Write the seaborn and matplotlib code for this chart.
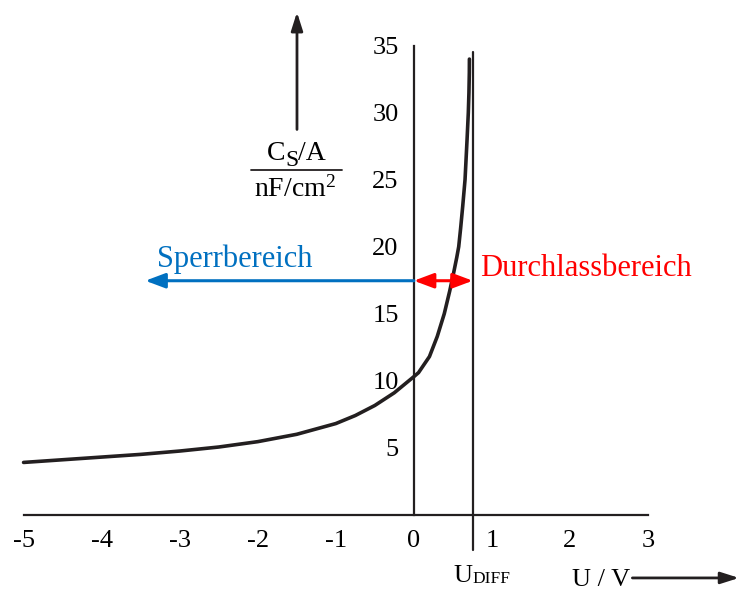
import matplotlib
matplotlib.use("Agg")
import matplotlib.pyplot as plt
import seaborn as sns
import pandas as pd

# Sperrschichtkapazität einer Diode über der Spannung
u_volt = [-5.0, -4.5, -4.0, -3.5, -3.0, -2.5, -2.0, -1.5, -1.0, -0.75, -0.5,
          -0.25, 0.0, 0.06, 0.2, 0.3, 0.39, 0.46, 0.51, 0.55, 0.575, 0.6,
          0.626, 0.656, 0.682, 0.698, 0.706, 0.711, 0.712]
cs_per_area = [3.9, 4.1, 4.3, 4.5, 4.75, 5.05, 5.45, 6.0, 6.8, 7.4, 8.15,
               9.1, 10.3, 10.6, 11.8, 13.3, 15.0, 16.7, 18.05, 19.2, 20.0,
               21.4, 23.0, 25.0, 28.0, 30.0, 31.5, 33.0, 34.0]
x_ticks = [-5, -4, -3, -2, -1, 0, 1, 2, 3]
y_ticks = [5, 10, 15, 20, 25, 30, 35]
u_diff = 0.755
arrow_level = 17.46

df = pd.DataFrame({"U": u_volt, "C": cs_per_area})

sns.set_style("white")
plt.rcParams["font.family"] = ["Liberation Serif", "DejaVu Serif"]
plt.rcParams["mathtext.fontset"] = "custom"
plt.rcParams["mathtext.rm"] = "Liberation Serif"
plt.rcParams["mathtext.it"] = "Liberation Serif:italic"

ink = "#231f20"
blue = "#0070c0"
red = "#ff0000"
DPI = 100

fig = plt.figure(figsize=(7.39, 5.90), dpi=DPI)
ax = fig.add_axes([0, 0, 1, 1])
ax.set_xlim(-5.302, 4.166)
ax.set_ylim(-5.62, 38.41)

sns.lineplot(data=df, x="U", y="C", ax=ax, color=ink, linewidth=2.6,
             sort=False, estimator=None)

# Achsen durch den Ursprung
for side in ("top", "right"):
    ax.spines[side].set_visible(False)
ax.spines["left"].set_position(("data", 0))
ax.spines["bottom"].set_position(("data", 0))
ax.spines["left"].set_bounds(0, 35)
ax.spines["bottom"].set_bounds(-5, 3)
for side in ("left", "bottom"):
    ax.spines[side].set_linewidth(1.6)
    ax.spines[side].set_color(ink)
    ax.spines[side].set_zorder(1)

ax.set_xticks(x_ticks)
ax.set_xticklabels([str(t) for t in x_ticks])
ax.set_yticks(y_ticks)
ax.set_yticklabels([str(t) for t in y_ticks])
ax.tick_params(axis="both", direction="inout", length=8, width=1.6,
               colors=ink, labelcolor="black", labelsize=19)
ax.tick_params(axis="x", pad=7)
ax.tick_params(axis="y", pad=7)
ax.set_xlabel("")
ax.set_ylabel("")
ax.grid(False)

renderer = fig.canvas.get_renderer()


def chained_text(x, y, parts, color="black"):
    """Write text pieces one after another on a common baseline.

    parts: (string, fontsize, vertical offset in points)
    """
    xd, yd = ax.transData.transform((x, y))
    inv = ax.transData.inverted()
    for s, size, dy in parts:
        px, py = inv.transform((xd, yd + dy * DPI / 72))
        t = ax.text(px, py, s, fontsize=size, ha="left", va="baseline",
                    color=color)
        xd += t.get_window_extent(renderer).width


# Diffusionsspannung
ax.plot([u_diff, u_diff], [-2.6, 34.55], color=ink, linewidth=1.6)
chained_text(0.505, -4.99, [("U", 19, 0), ("DIFF", 12.5, -1)])

# Bereichspfeile
ax.annotate("", xy=(-3.44, arrow_level), xytext=(0, arrow_level),
            arrowprops=dict(arrowstyle="-|>,head_length=1.2,head_width=0.45",
                            color=blue, lw=2.2, shrinkA=0, shrinkB=0))
ax.annotate("", xy=(0, arrow_level), xytext=(u_diff, arrow_level),
            arrowprops=dict(arrowstyle="<|-|>,head_length=1.2,head_width=0.45",
                            color=red, lw=2.2, shrinkA=0, shrinkB=0))
ax.text(-3.29, 18.45, "Sperrbereich", color=blue, fontsize=22,
        ha="left", va="baseline")
ax.text(0.85, 17.8, "Durchlassbereich", color=red, fontsize=22,
        ha="left", va="baseline")

# Achsenbeschriftung der Kapazität
chained_text(-1.885, 26.45, [("C", 20, 0), ("S", 17, -4), ("/A", 20, 0)])
ax.plot([-2.087, -0.924], [25.73, 25.73], color=ink, linewidth=1.3)
ax.text(-1.527, 23.75, r"nF/cm$^\mathrm{2}$", fontsize=20, ha="center",
        va="baseline", color="black")
ax.annotate("", xy=(-1.497, 37.5), xytext=(-1.497, 28.75),
            arrowprops=dict(arrowstyle="-|>,head_length=1.1,head_width=0.35",
                            color=ink, lw=2.0, shrinkA=0, shrinkB=0))

# Achsenbeschriftung der Spannung
ax.text(2.40, -4.87, "U / V", fontsize=19, ha="center", va="center",
        color="black")
ax.annotate("", xy=(4.166, -4.72), xytext=(2.80, -4.72),
            arrowprops=dict(arrowstyle="-|>,head_length=1.1,head_width=0.35",
                            color=ink, lw=2.0, shrinkA=0, shrinkB=0))

fig.savefig("out.png", dpi=DPI)
